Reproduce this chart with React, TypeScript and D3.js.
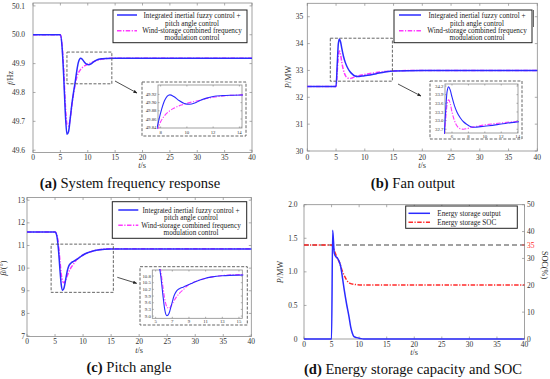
import * as d3 from "d3";

// ── Palette / fonts ───────────────────────────────────────────────────────────
const SERIF = "'Liberation Serif', 'DejaVu Serif', 'Times New Roman', serif";
const BLUE = "#2b2bff";
const MAGENTA = "#ff38ff";
const RED = "#ff2a2a";
const AXIS = "#8a8a8a";
const INK = "#333";
const DASHDOT = "4.5 1.5 1.2 1.5";

// ── (a) System frequency response ─────────────────────────────────────────────
const T_A = [0, 5, 5.3, 5.6, 5.9, 6.2, 6.5, 6.8, 7.1, 7.4, 7.7, 8.0, 8.3, 8.7, 9.0, 9.4, 9.8, 10.2, 10.6, 11.0, 11.5, 12.0, 12.7, 13.5, 15, 20, 40];
const F_BLUE = [50.0, 50.0, 49.96, 49.86, 49.73, 49.655, 49.665, 49.71, 49.76, 49.8, 49.835, 49.875, 49.905, 49.919, 49.915, 49.905, 49.898, 49.896, 49.899, 49.905, 49.911, 49.915, 49.917, 49.918, 49.919, 49.919, 49.919];
const F_MAG = [50.0, 50.0, 49.965, 49.88, 49.76, 49.69, 49.684, 49.71, 49.755, 49.795, 49.828, 49.853, 49.868, 49.88, 49.886, 49.892, 49.896, 49.9, 49.903, 49.906, 49.91, 49.913, 49.916, 49.918, 49.919, 49.919, 49.919];
const ZOOM_A = [6.2, 14.4, 49.83, 49.94];
const A_YTICKS = [49.6, 49.7, 49.8, 49.9, 50.0, 50.1];
const A_IN_XTICKS = [8, 10, 12, 14];
const A_IN_YTICKS = [49.84, 49.86, 49.88, 49.9, 49.92];

// ── (b) Fan output ────────────────────────────────────────────────────────────
const T_B = [0, 5, 5.2, 5.4, 5.6, 5.8, 6.0, 6.3, 6.6, 7.0, 7.4, 7.8, 8.3, 8.8, 9.5, 10.5, 12, 13.5, 15, 20, 40];
const P_BLUE = [32.4, 32.4, 33.2, 34.0, 34.17, 34.05, 33.82, 33.52, 33.3, 33.1, 32.96, 32.87, 32.79, 32.77, 32.79, 32.82, 32.88, 32.94, 32.98, 33.0, 33.0];
const P_MAG = [32.4, 32.4, 32.95, 33.55, 33.72, 33.58, 33.3, 33.0, 32.82, 32.72, 32.7, 32.72, 32.76, 32.79, 32.83, 32.87, 32.92, 32.96, 32.98, 33.0, 33.0];
const ZOOM_B = [4.0, 14.8, 32.6, 34.2];
const B_YTICKS = [30, 31, 32, 33, 34, 35];
const B_IN_XTICKS = [6, 8, 10, 12, 14];
const B_IN_YTICKS = [32.7, 33.0, 33.3, 33.6, 33.9, 34.2];

// ── (c) Pitch angle ───────────────────────────────────────────────────────────
const T_C = [0, 5, 5.3, 5.6, 5.9, 6.1, 6.35, 6.6, 6.9, 7.2, 7.5, 7.9, 8.3, 8.8, 9.4, 10, 10.8, 11.8, 13, 15, 18, 40];
const BETA_BLUE = [11.6, 11.6, 11.45, 10.85, 9.85, 9.28, 9.02, 9.12, 9.5, 9.9, 10.12, 10.24, 10.3, 10.38, 10.48, 10.58, 10.68, 10.76, 10.81, 10.84, 10.85, 10.85];
const BETA_MAG = [11.6, 11.6, 11.5, 11.05, 10.25, 9.75, 9.42, 9.35, 9.48, 9.68, 9.86, 10.04, 10.18, 10.36, 10.49, 10.58, 10.68, 10.76, 10.82, 10.86, 10.86, 10.86];
const ZOOM_C = [4.3, 15.4, 8.93, 11.06];
const C_YTICKS = [7, 8, 9, 10, 11, 12, 13];
const C_IN_XTICKS = [5, 7, 9, 11, 13, 15];
const C_IN_YTICKS = [9.0, 9.3, 9.6, 9.9, 10.2, 10.5, 10.8];

// ── (d) Energy storage output and SOC ─────────────────────────────────────────
const T_D = [0, 5.0, 5.2, 5.5, 5.8, 6.1, 6.4, 6.66, 7.0, 7.3, 7.75, 8.17, 8.47, 8.77, 9.07, 9.56, 10.2, 10.8, 40];
const P_ESS = [0, 0, 1.62, 1.275, 1.225, 1.2, 1.15, 1.08, 0.9, 0.73, 0.51, 0.33, 0.18, 0.085, 0.035, 0.02, 0.008, 0, 0];
const T_SOC = [0, 5.0, 5.3, 5.63, 6.0, 6.4, 7.0, 7.4, 7.75, 8.35, 9.26, 10.5, 40];
const SOC = [35, 35, 34.0, 32.2, 30.3, 28.7, 25.0, 23.2, 21.9, 20.7, 20.3, 20.1, 20.1];
const SOC_REF = 35;
const D_YTICKS = [0, 0.5, 1.0, 1.5, 2.0];
const D_RTICKS = [0, 10, 20, 30, 40, 50];

const X_TICKS = [0, 5, 10, 15, 20, 25, 30, 35, 40];
const LEG_BLUE = ["Integrated inertial fuzzy control +", "pitch angle control"];
const LEG_MAG = ["Wind-storage combined frequency", "modulation control"];
const LEG_D = ["Energy storage output", "Energy storage SOC"];
const CAPTIONS = [
  ["(a)", " System frequency response"],
  ["(b)", " Fan output"],
  ["(c)", " Pitch angle"],
  ["(d)", " Energy storage capacity and SOC"],
];

// ── Helpers ───────────────────────────────────────────────────────────────────
type Box = { l: number; r: number; t: number; b: number };
type Scale = d3.ScaleLinear<number, number>;
type Ser = { t: number[]; v: number[]; color: string; dash?: string };

function pathOf(s: Ser, x: Scale, y: Scale) {
  return d3
    .line<number>()
    .x((_, i) => x(s.t[i]))
    .y((d) => y(d))
    .curve(d3.curveMonotoneX)(s.v) ?? "";
}

interface AxesProps {
  id: string;
  box: Box;
  xDom: [number, number];
  yDom: [number, number];
  xTicks: number[];
  yTicks: number[];
  xFmt: (v: number) => string;
  yFmt: (v: number) => string;
  fs: number;
  yGap: number;
  xLabY: number;
  tl: number;
  lw: number;
  series: Ser[];
  rightTicks?: boolean;
  extra?: (x: Scale, y: Scale) => any;
}

function Axes(p: AxesProps) {
  const { box, tl } = p;
  const x = d3.scaleLinear().domain(p.xDom).range([box.l, box.r]);
  const y = d3.scaleLinear().domain(p.yDom).range([box.b, box.t]);
  const right = p.rightTicks !== false;
  return (
    <g>
      <defs>
        <clipPath id={p.id}>
          <rect x={box.l - 1} y={box.t - 1} width={box.r - box.l + 2} height={box.b - box.t + 2} />
        </clipPath>
      </defs>
      <rect x={box.l} y={box.t} width={box.r - box.l} height={box.b - box.t}
        fill="#fff" stroke={AXIS} strokeWidth={0.8} />
      {p.xTicks.map((v) => (
        <g key={"x" + v}>
          <line x1={x(v)} x2={x(v)} y1={box.b} y2={box.b - tl} stroke={AXIS} strokeWidth={0.7} />
          <line x1={x(v)} x2={x(v)} y1={box.t} y2={box.t + tl} stroke={AXIS} strokeWidth={0.7} />
          <text x={x(v)} y={p.xLabY} textAnchor="middle" fontSize={p.fs} fill={INK}>{p.xFmt(v)}</text>
        </g>
      ))}
      {p.yTicks.map((v) => (
        <g key={"y" + v}>
          <line x1={box.l} x2={box.l + tl} y1={y(v)} y2={y(v)} stroke={AXIS} strokeWidth={0.7} />
          {right && <line x1={box.r} x2={box.r - tl} y1={y(v)} y2={y(v)} stroke={AXIS} strokeWidth={0.7} />}
          <text x={box.l - p.yGap} y={y(v)} dy="0.35em" textAnchor="end" fontSize={p.fs} fill={INK}>{p.yFmt(v)}</text>
        </g>
      ))}
      <g clipPath={`url(#${p.id})`}>
        {p.extra && p.extra(x, y)}
        {p.series.map((s, i) => (
          <path key={i} d={pathOf(s, x, y)} fill="none" stroke={s.color}
            strokeWidth={p.lw} strokeDasharray={s.dash} />
        ))}
      </g>
    </g>
  );
}

function ZoomRect({ z, box, xDom, yDom }: { z: number[]; box: Box; xDom: [number, number]; yDom: [number, number] }) {
  const x = d3.scaleLinear().domain(xDom).range([box.l, box.r]);
  const y = d3.scaleLinear().domain(yDom).range([box.b, box.t]);
  return (
    <rect x={x(z[0])} y={y(z[3])} width={x(z[1]) - x(z[0])} height={y(z[2]) - y(z[3])}
      fill="none" stroke="#555" strokeWidth={0.9} strokeDasharray="3 1.6" />
  );
}

function Legend2({ box, sx, cx, ys }: { box: Box; sx: [number, number]; cx: number; ys: number[] }) {
  return (
    <g fontSize={7.2} fill="#222">
      <rect x={box.l} y={box.t} width={box.r - box.l} height={box.b - box.t}
        fill="#fff" stroke="#222" strokeWidth={1} />
      <line x1={sx[0]} x2={sx[1]} y1={ys[0]} y2={ys[0]} stroke={BLUE} strokeWidth={1.5} />
      <line x1={sx[0]} x2={sx[1]} y1={ys[2]} y2={ys[2]} stroke={MAGENTA} strokeWidth={1.5} strokeDasharray={DASHDOT} />
      <text x={cx} y={ys[0]} dy="0.35em" textAnchor="middle">{LEG_BLUE[0]}</text>
      <text x={cx} y={ys[1]} dy="0.35em" textAnchor="middle">{LEG_BLUE[1]}</text>
      <text x={cx} y={ys[2]} dy="0.35em" textAnchor="middle">{LEG_MAG[0]}</text>
      <text x={cx} y={ys[3]} dy="0.35em" textAnchor="middle">{LEG_MAG[1]}</text>
    </g>
  );
}

function Arrow({ x1, y1, x2, y2 }: { x1: number; y1: number; x2: number; y2: number }) {
  return <line x1={x1} y1={y1} x2={x2} y2={y2} stroke="#222" strokeWidth={0.8} markerEnd="url(#arr)" />;
}

function AxisTitle({ x, y, rot, it, rest }: { x: number; y: number; rot: number; it: string; rest: string }) {
  return (
    <text transform={`translate(${x},${y}) rotate(${rot})`} textAnchor="middle" fontSize={8.2} fill={INK}>
      <tspan fontStyle="italic">{it}</tspan>{rest}
    </text>
  );
}

const f1 = (v: number) => v.toFixed(1);
const f2 = (v: number) => v.toFixed(2);
const f0 = (v: number) => String(v);

export default function App() {
  const bA: Box = { l: 33, r: 252, t: 3, b: 152.5 };
  const dA: [number, number] = [49.592, 50.11];
  const bB: Box = { l: 307.3, r: 537.3, t: 3.3, b: 151 };
  const dB: [number, number] = [30, 35.5];
  const bC: Box = { l: 27, r: 251.3, t: 197.5, b: 336.5 };
  const dC: [number, number] = [6.98, 13.12];
  const bD: Box = { l: 304, r: 524.5, t: 204.7, b: 339 };

  const serA: Ser[] = [
    { t: T_A, v: F_MAG, color: MAGENTA, dash: DASHDOT },
    { t: T_A, v: F_BLUE, color: BLUE },
  ];
  const serB: Ser[] = [
    { t: T_B, v: P_MAG, color: MAGENTA, dash: DASHDOT },
    { t: T_B, v: P_BLUE, color: BLUE },
  ];
  const serC: Ser[] = [
    { t: T_C, v: BETA_MAG, color: MAGENTA, dash: DASHDOT },
    { t: T_C, v: BETA_BLUE, color: BLUE },
  ];

  const capY = [188, 188, 372, 374];
  const capX = [130, 413, 129, 413];

  return (
    <svg width={550} height={379} style={{ position: "absolute", left: 0, top: 0, background: "#fff", fontFamily: SERIF }}>
      <defs>
        <marker id="arr" viewBox="0 0 10 10" refX="9" refY="5" markerWidth="5" markerHeight="5" orient="auto">
          <path d="M0,1 L10,5 L0,9 z" fill="#222" />
        </marker>
      </defs>

      {/* (a) */}
      <Axes id="ca" box={bA} xDom={[0, 40]} yDom={dA} xTicks={X_TICKS} yTicks={A_YTICKS}
        xFmt={f0} yFmt={f1} fs={7.5} yGap={8} xLabY={159.6} tl={2.5} lw={1.5} series={serA} />
      <ZoomRect z={ZOOM_A} box={bA} xDom={[0, 40]} yDom={dA} />
      <Legend2 box={{ l: 113, r: 247, t: 10, b: 42.7 }} sx={[117, 137]} cx={192} ys={[15, 23.3, 30.7, 37.7]} />
      <rect x={142} y={82} width={104} height={54} fill="#fff" stroke="#555" strokeWidth={0.9} strokeDasharray="3 1.6" />
      <Axes id="ia" box={{ l: 158, r: 242, t: 85, b: 128 }} xDom={[7.8, 14.2]} yDom={[49.838, 49.943]}
        xTicks={A_IN_XTICKS} yTicks={A_IN_YTICKS} xFmt={f0} yFmt={f2} fs={4.8} yGap={1.5} xLabY={133.8}
        tl={1.5} lw={1.1} series={serA} />
      <Arrow x1={115} y1={81} x2={137} y2={93} />
      <AxisTitle x={12.5} y={78} rot={-90} it="f" rest="/Hz" />
      <AxisTitle x={142} y={168} rot={0} it="t" rest="/s" />

      {/* (b) */}
      <Axes id="cb" box={bB} xDom={[0, 40]} yDom={dB} xTicks={X_TICKS} yTicks={B_YTICKS}
        xFmt={f0} yFmt={f0} fs={7.5} yGap={4} xLabY={159.6} tl={2.5} lw={1.5} series={serB} />
      <ZoomRect z={ZOOM_B} box={bB} xDom={[0, 40]} yDom={dB} />
      <Legend2 box={{ l: 394, r: 532, t: 10, b: 42.7 }} sx={[399, 421]} cx={477} ys={[15, 23.3, 30.7, 37.7]} />
      <line x1={533.5} x2={533.5} y1={10} y2={27} stroke="#444" strokeWidth={0.8} />
      <rect x={430} y={81} width={92} height={58} fill="#fff" stroke="#555" strokeWidth={0.9} strokeDasharray="3 1.6" />
      <Axes id="ib" box={{ l: 445, r: 518, t: 84, b: 133 }} xDom={[5.15, 14.04]} yDom={[32.57, 34.27]}
        xTicks={B_IN_XTICKS} yTicks={B_IN_YTICKS} xFmt={f0} yFmt={f1} fs={4.8} yGap={1.5} xLabY={138}
        tl={1.5} lw={1.1} series={serB} />
      <Arrow x1={398} y1={84} x2={421} y2={96} />
      <AxisTitle x={290.5} y={77} rot={-90} it="P" rest="/MW" />
      <AxisTitle x={422} y={168} rot={0} it="t" rest="/s" />

      {/* (c) */}
      <Axes id="cc" box={bC} xDom={[0, 40]} yDom={dC} xTicks={X_TICKS} yTicks={C_YTICKS}
        xFmt={f0} yFmt={f0} fs={7.5} yGap={2} xLabY={344.3} tl={2.5} lw={1.5} series={serC} />
      <ZoomRect z={ZOOM_C} box={bC} xDom={[0, 40]} yDom={dC} />
      <Legend2 box={{ l: 112.3, r: 246.7, t: 201.7, b: 238.3 }} sx={[118.3, 138.3]} cx={191} ys={[210, 217.3, 225.3, 232.7]} />
      <rect x={140} y={266.7} width={107.3} height={58.3} fill="#fff" stroke="#555" strokeWidth={0.9} strokeDasharray="3 1.6" />
      <Axes id="ic" box={{ l: 152.3, r: 242.3, t: 270, b: 318.3 }} xDom={[4.6, 15.4]} yDom={[8.9, 11.07]}
        xTicks={C_IN_XTICKS} yTicks={C_IN_YTICKS} xFmt={f0} yFmt={f1} fs={4.8} yGap={1.5} xLabY={323}
        tl={1.5} lw={1.1} series={serC} />
      <Arrow x1={117.3} y1={277.3} x2={136.7} y2={283.3} />
      <AxisTitle x={5.5} y={268} rot={-90} it="β" rest="/(°)" />
      <AxisTitle x={139} y={352.5} rot={0} it="t" rest="/s" />

      {/* (d) */}
      <Axes id="cd" box={bD} xDom={[0, 40]} yDom={[0, 2]} xTicks={X_TICKS} yTicks={D_YTICKS}
        xFmt={f0} yFmt={(v) => (v === 0 ? "0" : v.toFixed(1))} fs={7.5} yGap={6.5} xLabY={346.6}
        tl={2.5} lw={1.5} rightTicks={false}
        series={[{ t: T_D, v: P_ESS, color: BLUE }]}
        extra={(x) => {
          const yr = d3.scaleLinear().domain([0, 50]).range([bD.b, bD.t]);
          const soc = d3.line<number>().x((_, i) => x(T_SOC[i])).y((d) => yr(d)).curve(d3.curveMonotoneX)(SOC) ?? "";
          return (
            <g>
              <line x1={x(0)} x2={x(40)} y1={yr(SOC_REF)} y2={yr(SOC_REF)} stroke="#444" strokeWidth={1.2} strokeDasharray="5 3" />
              <path d={soc} fill="none" stroke={RED} strokeWidth={1.5} strokeDasharray={DASHDOT} />
            </g>
          );
        }} />
      {(() => {
        const yr = d3.scaleLinear().domain([0, 50]).range([bD.b, bD.t]);
        return (
          <g fontSize={7.5}>
            {D_RTICKS.map((v) => (
              <g key={v}>
                <line x1={bD.r} x2={bD.r - 2.5} y1={yr(v)} y2={yr(v)} stroke={AXIS} strokeWidth={0.7} />
                <text x={bD.r + 2.5} y={yr(v)} dy="0.35em" fill={INK}>{v}</text>
              </g>
            ))}
            <line x1={bD.r} x2={bD.r - 2.5} y1={yr(SOC_REF)} y2={yr(SOC_REF)} stroke={RED} strokeWidth={0.7} />
            <text x={bD.r + 2.5} y={yr(SOC_REF)} dy="0.35em" fill={RED}>{SOC_REF}</text>
          </g>
        );
      })()}
      <g fontSize={7.2} fill="#222">
        <rect x={405.7} y={206} width={111.6} height={22.3} fill="#fff" stroke="#222" strokeWidth={1} />
        <line x1={408.5} x2={430} y1={213.3} y2={213.3} stroke={BLUE} strokeWidth={1.5} />
        <line x1={408.5} x2={430} y1={222.3} y2={222.3} stroke={RED} strokeWidth={1.5} strokeDasharray={DASHDOT} />
        <text x={437.3} y={213.3} dy="0.35em">{LEG_D[0]}</text>
        <text x={437.3} y={222.3} dy="0.35em">{LEG_D[1]}</text>
      </g>
      <AxisTitle x={282.5} y={272} rot={-90} it="P" rest="/MW" />
      <text transform="translate(541.7,265) rotate(90)" textAnchor="middle" fontSize={8.2} fill={INK}>SOC(%)</text>
      <AxisTitle x={414} y={354.5} rot={0} it="t" rest="/s" />

      {/* captions */}
      {CAPTIONS.map((c, i) => (
        <text key={i} x={capX[i]} y={capY[i]} textAnchor="middle" fontSize={14.6} fill="#111">
          <tspan fontWeight="bold">{c[0]}</tspan>{c[1]}
        </text>
      ))}
    </svg>
  );
}
